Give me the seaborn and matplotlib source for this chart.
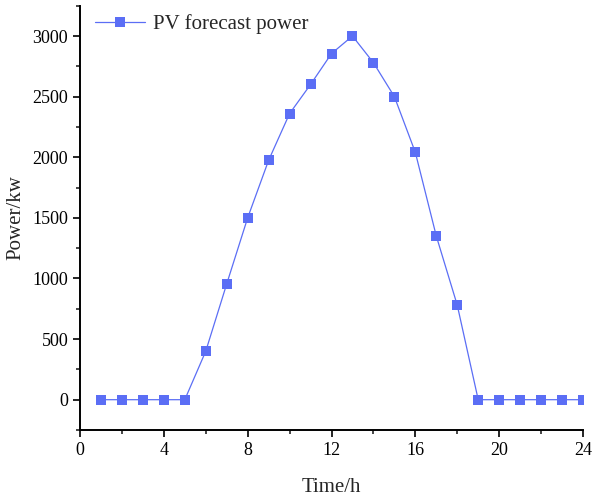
import numpy as np
import pandas as pd
import matplotlib
matplotlib.use("Agg")
import matplotlib.pyplot as plt
import seaborn as sns
from matplotlib.ticker import MultipleLocator

# hourly PV forecast
hours = list(range(1, 25))
pv_power = [0, 0, 0, 0, 0, 400, 955, 1500, 1975, 2360, 2600, 2855,
            3000, 2780, 2500, 2040, 1350, 780, 0, 0, 0, 0, 0, 0]
series_name = "PV forecast power"

df = pd.DataFrame({"Time": hours, "Power": pv_power})

sns.set_style("ticks")
plt.rcParams["font.family"] = ["Liberation Serif", "DejaVu Serif"]

fig = plt.figure(figsize=(5.93, 4.97), dpi=100)
ax = fig.add_axes([80 / 593, 1 - 430 / 497, 503 / 593, 424.3 / 497])

color = "#5b6ef5"
sns.lineplot(data=df, x="Time", y="Power", ax=ax, color=color, lw=0.9,
             marker="s", markersize=7.5, markeredgewidth=0, label=series_name)

ax.set_xlim(0, 24)
ax.set_ylim(-250, 3250)
ax.xaxis.set_major_locator(MultipleLocator(4))
ax.xaxis.set_minor_locator(MultipleLocator(2))
ax.yaxis.set_major_locator(MultipleLocator(500))
ax.yaxis.set_minor_locator(MultipleLocator(250))
ax.tick_params(which="major", direction="out", length=5, width=1.2,
               labelsize=13, colors="black")
ax.tick_params(which="minor", direction="out", length=3, width=1.2)

for s in ["top", "right"]:
    ax.spines[s].set_visible(False)
for s in ["left", "bottom"]:
    ax.spines[s].set_linewidth(1.4)
    ax.spines[s].set_color("black")

ax.set_xlabel("Time/h", fontsize=15, labelpad=14)
ax.set_ylabel("Power/kw", fontsize=15, labelpad=5)

ax.legend(loc="upper left", frameon=False, fontsize=15,
          handlelength=2.4, handletextpad=0.35, borderaxespad=0.1,
          bbox_to_anchor=(0.01, 1.005))

fig.savefig("out.png", dpi=100)
